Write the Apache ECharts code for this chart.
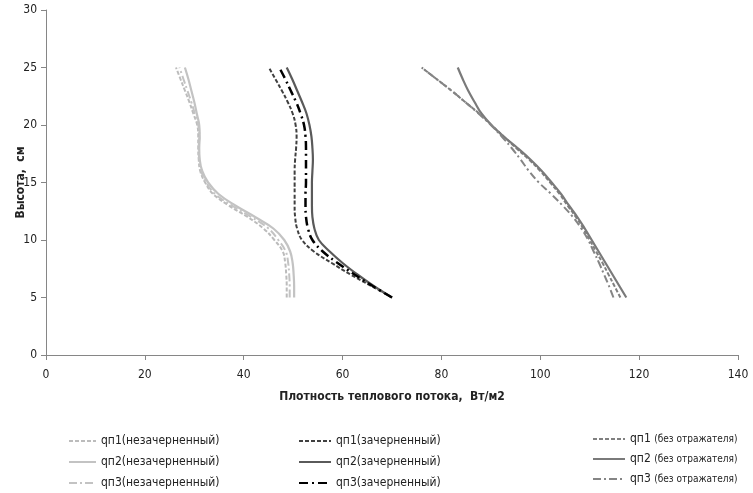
<!DOCTYPE html>
<html>
<head>
<meta charset="utf-8">
<script src="https://cdn.jsdelivr.net/npm/echarts@6/dist/echarts.min.js"></script>
<style>html,body{margin:0;padding:0;background:#fff}#c{width:753px;height:493px}</style>
</head>
<body>
<div id="c"></div>
<script>
// Heights (cm)
var heights = [5, 6, 7, 8, 9, 10, 11, 12, 13, 14, 15, 16, 17, 18, 19, 20, 21, 22, 23, 24, 25];
// незачерненный
var qp1_unb = [48.7, 48.7, 48.6, 48.4, 47.9, 46.2, 44.0, 40.8, 37.0, 33.8, 32.2, 31.2, 30.9, 30.8, 30.8, 30.6, 29.8, 29.0, 28.1, 27.2, 26.3];
var qp2_unb = [50.2, 50.2, 50.1, 49.9, 49.4, 48.2, 46.0, 42.3, 38.3, 34.9, 32.8, 31.6, 31.1, 31.0, 31.1, 31.0, 30.5, 30.0, 29.4, 28.8, 28.1];
var qp3_unb = [49.3, 49.3, 49.2, 49.0, 48.5, 47.0, 45.0, 41.5, 37.6, 34.2, 32.4, 31.4, 31.0, 30.9, 31.0, 30.8, 30.1, 29.4, 28.6, 27.8, 27.0];
// зачерненный
var qp1_bl = [70.0, 65.8, 61.6, 57.8, 54.2, 51.8, 50.8, 50.4, 50.3, 50.3, 50.3, 50.3, 50.4, 50.6, 50.7, 50.5, 49.9, 48.9, 47.7, 46.4, 45.1];
var qp2_bl = [70.0, 66.3, 63.0, 60.0, 57.4, 55.2, 54.3, 53.9, 53.8, 53.8, 53.8, 53.9, 54.0, 53.9, 53.7, 53.3, 52.7, 51.8, 50.8, 49.8, 48.7];
var qp3_bl = [70.0, 66.1, 62.4, 59.0, 56.0, 53.9, 53.0, 52.6, 52.5, 52.5, 52.6, 52.6, 52.6, 52.6, 52.5, 52.2, 51.5, 50.6, 49.5, 48.4, 47.2];
// без отражателя
var qp1_nr = [116.2, 115.0, 113.8, 112.6, 111.3, 110.0, 108.7, 107.2, 105.5, 103.9, 102.0, 100.0, 97.7, 95.1, 92.6, 90.1, 87.6, 84.8, 82.0, 79.0, 76.0];
var qp2_nr = [117.4, 116.0, 114.6, 113.2, 111.8, 110.4, 109.0, 107.5, 105.8, 104.2, 102.3, 100.3, 98.0, 95.4, 92.6, 90.1, 88.1, 86.7, 85.4, 84.3, 83.3];
var qp3_nr = [114.8, 113.9, 112.9, 111.9, 110.8, 109.7, 108.3, 106.6, 104.5, 102.2, 99.7, 97.7, 96.0, 94.2, 92.2, 90.0, 87.5, 84.8, 82.0, 79.0, 76.0];

var names = [
  'qп1(незачерненный)', 'qп2(незачерненный)', 'qп3(незачерненный)',
  'qп1(зачерненный)', 'qп2(зачерненный)', 'qп3(зачерненный)',
  'qп1 (без отражателя)', 'qп2 (без отражателя)', 'qп3 (без отражателя)'
];

var FONT = "'Liberation Sans Narrow', 'DejaVu Sans Condensed', 'Liberation Sans', sans-serif";

function pts(xs) { return xs.map(function (x, i) { return [x, heights[i]]; }); }
function ser(name, xs, color, type, width) {
  return {
    name: name, type: 'line', data: pts(xs), smooth: 0.4,
    symbol: 'none', showSymbol: false,
    lineStyle: { color: color, type: type, width: width },
    itemStyle: { color: color },
    z: 2
  };
}
var dash = [4, 2];
var dashDot = [8, 3, 2, 3];

var chart = echarts.init(document.getElementById('c'), null, { renderer: 'canvas' });
var legendBase = {
  orient: 'vertical', itemWidth: 30, itemHeight: 10, itemGap: 9, selectedMode: false,
  padding: 0, height: 80,
  itemStyle: { opacity: 0 },
  textStyle: { fontFamily: FONT, fontSize: 12, color: '#222' }
};
chart.setOption({
  animation: false,
  backgroundColor: '#fff',
  grid: { left: 46, right: 15, top: 10, bottom: 138, containLabel: false, outerBoundsMode: 'none' },
  xAxis: {
    type: 'value', min: 0, max: 140, interval: 20,
    name: 'Плотность теплового потока,  Вт/м2', nameLocation: 'middle', nameGap: 36,
    nameMoveOverlap: false,
    nameTextStyle: { fontFamily: FONT, fontSize: 12, fontWeight: 'bold', color: '#222' },
    axisLine: { show: true, lineStyle: { color: '#868686', width: 1 } },
    axisTick: { show: true, length: 5, lineStyle: { color: '#868686' } },
    axisLabel: { fontFamily: FONT, fontSize: 12, color: '#222', margin: 14 },
    splitLine: { show: false }
  },
  yAxis: {
    type: 'value', min: 0, max: 30, interval: 5,
    name: 'Высота,  см', nameLocation: 'middle', nameGap: 19, nameRotate: 90,
    nameMoveOverlap: false,
    nameTextStyle: { fontFamily: FONT, fontSize: 12, fontWeight: 'bold', color: '#222' },
    axisLine: { show: true, lineStyle: { color: '#868686', width: 1 } },
    axisTick: { show: true, length: 5, lineStyle: { color: '#868686' } },
    axisLabel: { fontFamily: FONT, fontSize: 12, color: '#222', margin: 9 },
    splitLine: { show: false }
  },
  legend: [
    Object.assign({}, legendBase, { left: 68, top: 435, itemWidth: 27, data: names.slice(0, 3) }),
    Object.assign({}, legendBase, { left: 298, top: 435, itemWidth: 32, data: names.slice(3, 6) }),
    Object.assign({}, legendBase, {
      left: 592, top: 433, itemWidth: 32, itemGap: 8, data: names.slice(6, 9),
      formatter: function (n) {
        var p = n.split(' ');
        return '{a|' + p[0] + '} {b|' + p.slice(1).join(' ') + '}';
      },
      textStyle: {
        fontFamily: FONT, fontSize: 12, color: '#222',
        rich: { a: { fontFamily: FONT, fontSize: 12, color: '#222' }, b: { fontFamily: FONT, fontSize: 10, color: '#222' } }
      }
    })
  ],
  series: [
    ser(names[0], qp1_unb, '#bcbcbc', dash, 2),
    ser(names[1], qp2_unb, '#c3c3c3', 'solid', 2.2),
    ser(names[2], qp3_unb, '#c3c3c3', dashDot, 2),
    ser(names[3], qp1_bl, '#404040', dash, 2),
    ser(names[4], qp2_bl, '#5a5a5a', 'solid', 2.2),
    ser(names[5], qp3_bl, '#000000', [9, 4, 2, 4], 2.5),
    ser(names[6], qp1_nr, '#808080', dash, 2),
    ser(names[7], qp2_nr, '#7a7a7a', 'solid', 2.2),
    ser(names[8], qp3_nr, '#858585', dashDot, 2)
  ]
});
</script>
</body>
</html>
